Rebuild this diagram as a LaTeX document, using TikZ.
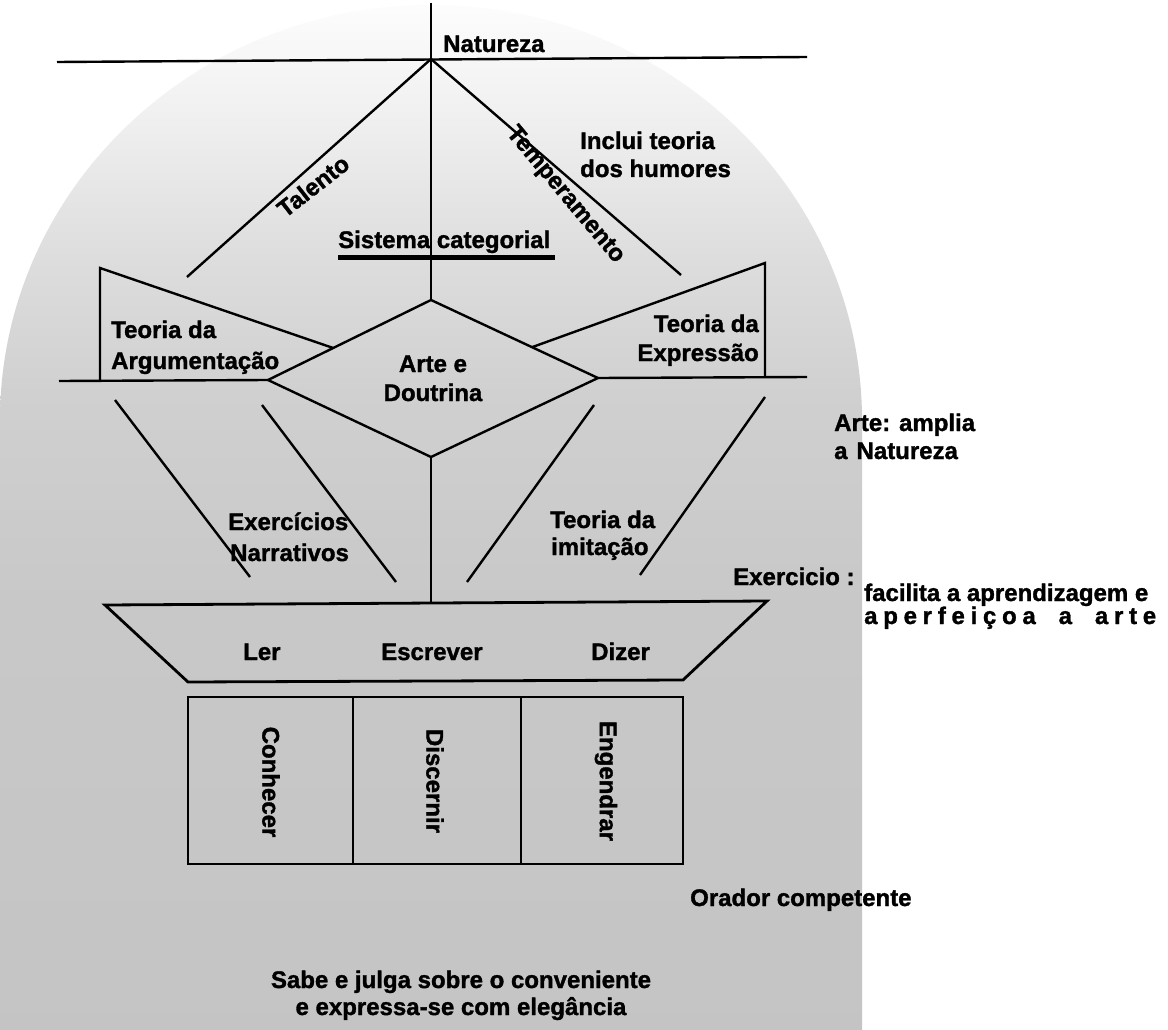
\documentclass[tikz,border=0pt]{standalone}
\usepackage{fontspec}
\setmainfont{Liberation Sans}
\newfontfamily\heavy{Liberation Sans Bold}[FakeBold=1.4]
\usetikzlibrary{calc}

% soft grey backdrop: light at the top of the arch, darker towards the foot
\pgfdeclareverticalshading{archgray}{100bp}{%
  color(0bp)=(gray!46); color(25bp)=(gray!46); color(46bp)=(gray!43);
  color(56bp)=(gray!37); color(63bp)=(gray!26); color(70bp)=(gray!11);
  color(75bp)=(gray!2); color(100bp)=(gray!2)}

\tikzset{
  lbl/.style={font=\heavy\fontsize{24}{28}\selectfont, inner sep=0pt, text=black},
  ln/.style={line width=2.4pt, black},
  frame/.style={line width=2.8pt, black, line join=miter},
  bar/.style={line width=5pt, black}
}

\begin{document}
\begin{tikzpicture}[x=1pt, y=-1pt]
\useasboundingbox (0,0) rectangle (1168,1030);
\fill[white] (0,0) rectangle (1168,1030);

% backdrop arch
\shade[shading=archgray] (0,1030) -- (0,420)
  .. controls (0,191) and (193,5) .. (431,5)
  .. controls (669,5) and (862,191) .. (862,420) -- (862,1030) -- cycle;

% key points
\coordinate (vtop) at (431,3);
\coordinate (apex) at (431,59);
\coordinate (natL) at (57,62);
\coordinate (natR) at (807,57);
\coordinate (talB) at (187,277);
\coordinate (temB) at (681,275);
\coordinate (dT) at (431,300);
\coordinate (dL) at (268,380);
\coordinate (dR) at (598,378);
\coordinate (dB) at (431,457);
\coordinate (argTop) at (100,268);
\coordinate (argBot) at (100,381);
\coordinate (argEnd) at (59,381);
\coordinate (expTop) at (765,263);
\coordinate (expBot) at (765,377);
\coordinate (expEnd) at (807,377);
\coordinate (trTL) at (105,605);
\coordinate (trTR) at (767,601);
\coordinate (trBR) at (683,680);
\coordinate (trBL) at (188,682);
\coordinate (trTop) at ($(trTL)!0.5!(trTR)$);

% Natureza axis and the two branches
\draw[ln] (natL) -- (natR);
\draw[ln] (vtop) -- (dT);
\draw[ln] (apex) -- (talB);
\draw[ln] (apex) -- (temB);

% Arte e Doutrina diamond
\draw[ln] (dT) -- (dL) -- (dB) -- (dR) -- cycle;
\draw[ln] (dB) -- (dB |- trTop);

% side wedges
\draw[ln] (argEnd) -- (dL);
\draw[ln] (argBot) -- (argTop) -- ($(dL)!0.4!(dT)$);
\draw[ln] (dR) -- (expEnd);
\draw[ln] (expBot) -- (expTop) -- ($(dR)!0.395!(dT)$);

% strokes leading down to the exercise bar
\coordinate (s1a) at (115,400); \coordinate (s1b) at (250,577);
\coordinate (s2a) at (262,405); \coordinate (s2b) at (396,582);
\coordinate (s3a) at (594,405); \coordinate (s3b) at (467,582);
\coordinate (s4a) at (765,397); \coordinate (s4b) at (640,575);
\draw[ln] (s1a) -- (s1b);
\draw[ln] (s2a) -- (s2b);
\draw[ln] (s3a) -- (s3b);
\draw[ln] (s4a) -- (s4b);

% Ler / Escrever / Dizer trapezoid
\draw[frame] (trTL) -- (trTR) -- (trBR) -- (trBL) -- cycle;

% three-column box
\coordinate (bxTL) at (188,697);
\coordinate (bxBR) at (683,864);
\draw[frame] (bxTL) rectangle (bxBR);
\draw[frame] (353,697) -- (353,864);
\draw[frame] (521,697) -- (521,864);

% Sistema categorial
\node[lbl, anchor=base west] (sis) at (338,248) {Sistema categorial};
\draw[bar] (338,257) -- (555,257);

% labels
\node[lbl, anchor=base west] (nat) at (443,52) {Natureza};
\node[lbl, rotate=38] (tal) at (313,186) {Talento};
\node[lbl, rotate=-50] (tem) at (565,195) {Temperamento};
\node[lbl, anchor=base west] (inc1) at (580,149) {Inclui teoria};
\node[lbl, anchor=base west] (inc2) at (580,177) {dos humores};

\node[lbl, anchor=base west] (arg1) at (111,338) {Teoria da};
\node[lbl, anchor=base west] (arg2) at (111,369) {Argumentação};
\node[lbl, anchor=base east] (exp1) at (759,332) {Teoria da};
\node[lbl, anchor=base east] (exp2) at (759,361) {Expressão};
\node[lbl, anchor=base] (art1) at (433,372) {Arte e};
\node[lbl, anchor=base] (art2) at (433,401) {Doutrina};

\node[lbl, anchor=base west] (amp1) at (834,431) {Arte: amplia};
\node[lbl, anchor=base west] (amp2) at (834,459) {a\hspace{9pt}Natureza};

\node[lbl, anchor=base west] (exn1) at (228,530) {Exercícios};
\node[lbl, anchor=base west] (exn2) at (230,561) {Narrativos};
\node[lbl, anchor=base west] (imi1) at (550,528) {Teoria da};
\node[lbl, anchor=base west] (imi2) at (551,555) {imitação};

\node[lbl, anchor=base west] (exc) at (733,585) {Exercicio :};
\node[lbl, anchor=base west] (fac) at (864,601) {facilita a aprendizagem e};
\node[lbl, anchor=base west] (perf) at (864,624)
  {\hbox to 292pt{a\hfill p\hfill e\hfill r\hfill f\hfill e\hfill i\hfill ç\hfill o\hfill a\hfill\hfill\hfill\hfill a\hfill\hfill\hfill\hfill a\hfill r\hfill t\hfill e}};

\node[lbl, anchor=base west] (ler) at (243,660) {Ler};
\node[lbl, anchor=base west] (esc) at (381,660) {Escrever};
\node[lbl, anchor=base west] (diz) at (591,660) {Dizer};

\node[lbl, rotate=-90] (con) at (271,782) {Conhecer};
\node[lbl, rotate=-90] (dis) at (435,781) {Discernir};
\node[lbl, rotate=-90] (eng) at (606,781) {Engendrar};

\node[lbl, anchor=base west] (ora) at (690,906) {Orador competente};
\node[lbl, anchor=base] (sab1) at (461,988) {Sabe e julga sobre o conveniente};
\node[lbl, anchor=base] (sab2) at (461,1015) {e expressa-se com elegância};
\end{tikzpicture}
\end{document}
